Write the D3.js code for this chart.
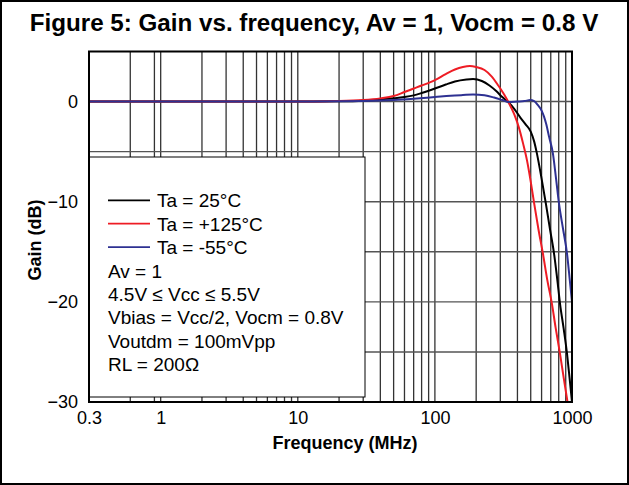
<!DOCTYPE html>
<html><head><meta charset="utf-8">
<script src="https://cdn.jsdelivr.net/npm/d3@7"></script>
<style>html,body{margin:0;padding:0;background:#fff;} svg{display:block;}</style>
</head><body>
<script>
const title = "Figure 5: Gain vs. frequency, Av = 1, Vocm = 0.8 V";
const xTicks = [0.3, 1, 10, 100, 1000];
const xTickLabels = ["0.3", "1", "10", "100", "1000"];
const yTicks = [0, -10, -20, -30];
const yGrid = [-25, -20, -15, -10, -5, 0];
const xGrid = [0.6, 0.9, 1, 2, 3, 4, 5, 6, 7, 8, 9, 10, 20, 30, 40, 50, 60, 70, 80, 90, 100, 200, 300, 400, 500, 600, 700, 800, 900];

const freq25 = [0.3, 1, 10, 20, 30, 40, 50, 60, 70, 80, 100, 120, 140, 170, 190, 220, 250, 280, 310, 345, 380, 420, 460, 500, 530, 555, 600, 645, 690, 740, 780, 818, 870, 920, 960, 1000];
const gain25 = [0, 0, 0, 0.02, 0.08, 0.2, 0.32, 0.45, 0.62, 0.85, 1.3, 1.7, 2.0, 2.2, 2.25, 2.05, 1.6, 1.05, 0.45, -0.1, -0.75, -1.6, -2.3, -3.0, -4.0, -5.2, -7.7, -10.2, -12.7, -15.2, -17.7, -20.2, -22.7, -25.2, -27.6, -30];

const freq125 = [0.3, 1, 10, 20, 30, 40, 50, 60, 70, 80, 100, 120, 140, 160, 180, 200, 230, 260, 290, 320, 345, 380, 410, 440, 470, 500, 530, 570, 614, 660, 714, 760, 818, 870, 940];
const gain125 = [0, 0, 0, 0.05, 0.15, 0.32, 0.55, 0.95, 1.3, 1.6, 2.15, 2.75, 3.2, 3.45, 3.55, 3.45, 3.15, 2.5, 1.6, 0.7, -0.1, -1.3, -2.6, -4.2, -5.9, -8.0, -10.2, -12.8, -15.2, -17.8, -20.2, -22.6, -25.2, -27.6, -30.5];

const freqM55 = [0.3, 1, 10, 20, 30, 50, 70, 100, 130, 160, 190, 230, 270, 310, 345, 400, 450, 495, 530, 560, 600, 625, 650, 680, 726, 765, 804, 860, 920, 960, 1000];
const gainM55 = [0, 0, 0, 0.02, 0.05, 0.15, 0.28, 0.45, 0.58, 0.65, 0.7, 0.62, 0.4, 0.15, -0.05, 0.0, 0.05, 0.15, 0.05, -0.3, -0.9, -1.5, -2.3, -3.5, -5.2, -7.7, -10.2, -12.7, -15.2, -17.6, -20];

const seriesNames = ["Ta = 25°C", "Ta = +125°C", "Ta = -55°C"];
const seriesColors = ["#000000", "#ee1c24", "#2e3192"];
const notes = ["Av = 1", "4.5V ≤ Vcc ≤ 5.5V", "Vbias = Vcc/2, Vocm = 0.8V", "Voutdm = 100mVpp", "RL = 200Ω"];

const W = 629, H = 485;
const L = 89, R = 572, T = 51.5, B = 402;
const font = "'Liberation Sans', Arial, Helvetica, sans-serif";

const svg = d3.select("body").append("svg").attr("width", W).attr("height", H)
  .style("font-family", font);

svg.append("rect").attr("x", 1).attr("y", 1).attr("width", W - 2).attr("height", H - 2)
  .attr("fill", "#fff").attr("stroke", "#000").attr("stroke-width", 2);

svg.append("text").attr("x", 314).attr("y", 31).attr("text-anchor", "middle")
  .attr("font-weight", "bold").attr("font-size", 24.2).text(title);

const x = d3.scaleLog().domain([0.3, 1000]).range([L, R]);
const y = d3.scaleLinear().domain([-30, 5]).range([B, T]);

const grid = svg.append("g");
grid.selectAll("line.v").data(xGrid).join("line")
  .attr("x1", d => x(d)).attr("x2", d => x(d)).attr("y1", T).attr("y2", B)
  .attr("stroke", "#333").attr("stroke-width", 1.3);
grid.selectAll("line.h").data(yGrid).join("line")
  .attr("x1", L).attr("x2", R).attr("y1", d => y(d)).attr("y2", d => y(d))
  .attr("stroke", "#555").attr("stroke-width", 1.4);

svg.append("clipPath").attr("id", "clip").append("rect")
  .attr("x", L).attr("y", T).attr("width", R - L).attr("height", B - T);

const line = d3.line().x(d => x(d[0])).y(d => y(d[1])).curve(d3.curveMonotoneX);
const series = [
  d3.zip(freq25, gain25),
  d3.zip(freq125, gain125),
  d3.zip(freqM55, gainM55)
];
const curves = svg.append("g").attr("clip-path", "url(#clip)");
series.forEach((s, i) => {
  curves.append("path").attr("d", line(s)).attr("fill", "none")
    .attr("stroke", seriesColors[i]).attr("stroke-width", 2);
});

// legend box
const lg = svg.append("g");
lg.append("rect").attr("x", L).attr("y", 157).attr("width", 365 - L).attr("height", 397 - 157)
  .attr("fill", "#fff").attr("stroke", "#000").attr("stroke-width", 1);
const rowY = i => 207.3 + i * 23.4;
seriesNames.forEach((n, i) => {
  lg.append("line").attr("x1", 108).attr("x2", 150).attr("y1", rowY(i) - 7).attr("y2", rowY(i) - 7)
    .attr("stroke", seriesColors[i]).attr("stroke-width", 1.8);
  lg.append("text").attr("x", 157).attr("y", rowY(i)).attr("font-size", 19).text(n);
});
notes.forEach((n, j) => {
  lg.append("text").attr("x", 108).attr("y", rowY(j + 3)).attr("font-size", 19).text(n);
});

// frame
svg.append("rect").attr("x", L).attr("y", T).attr("width", R - L).attr("height", B - T)
  .attr("fill", "none").attr("stroke", "#000").attr("stroke-width", 2);

// axes labels
const yAxis = d3.axisLeft(y).tickValues(yTicks).tickSize(0).tickPadding(11).tickFormat(d3.format("d"));
const gy = svg.append("g").attr("transform", `translate(${L},0)`).call(yAxis);
gy.select(".domain").remove();
gy.selectAll("text").attr("font-size", 18).attr("font-family", font).attr("fill", "#000");

const xAxis = d3.axisBottom(x).tickValues(xTicks).tickSize(0).tickPadding(9)
  .tickFormat((d, i) => xTickLabels[i]);
const gx = svg.append("g").attr("transform", `translate(0,${B})`).call(xAxis);
gx.select(".domain").remove();
gx.selectAll("text").attr("font-size", 18).attr("font-family", font).attr("fill", "#000");

svg.append("text").attr("x", 345).attr("y", 449).attr("text-anchor", "middle")
  .attr("font-weight", "bold").attr("font-size", 18).text("Frequency (MHz)");
svg.append("text").attr("transform", "translate(41,240) rotate(-90)").attr("text-anchor", "middle")
  .attr("font-weight", "bold").attr("font-size", 18).text("Gain (dB)");
</script>
</body></html>
